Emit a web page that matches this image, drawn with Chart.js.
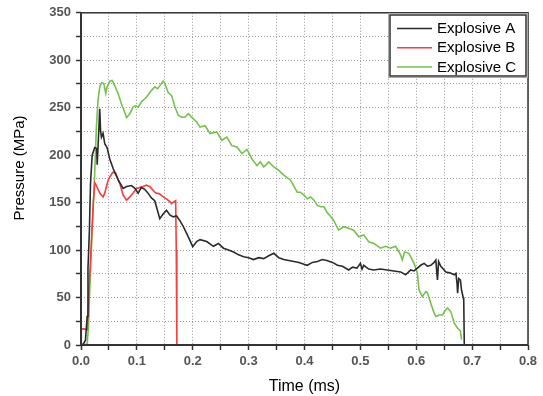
<!DOCTYPE html>
<html>
<head>
<meta charset="utf-8">
<script src="https://cdn.jsdelivr.net/npm/chart.js@4/dist/chart.umd.min.js"></script>
<style>
html,body{margin:0;padding:0;background:#fff;}
canvas{display:block;}
</style>
</head>
<body>
<canvas id="c" width="543" height="396"></canvas>
<script>
// ---- data ----
const seriesNames = ["Explosive A", "Explosive B", "Explosive C"];

const timeA = [0,0.004,0.008,0.011,0.0125,0.013,0.015,0.017,0.02,0.0245,0.028,0.029,0.031,0.0335,0.035,0.0366,0.0395,0.0425,0.0467,0.0515,0.0575,0.0665,0.0754,0.0815,0.0905,0.0964,0.1023,0.108,0.114,0.12,0.126,0.132,0.141,0.147,0.153,0.159,0.165,0.171,0.177,0.183,0.192,0.2,0.207,0.213,0.225,0.237,0.246,0.255,0.264,0.273,0.282,0.291,0.3,0.309,0.318,0.327,0.336,0.345,0.354,0.363,0.372,0.381,0.39,0.399,0.405,0.414,0.423,0.432,0.44,0.45,0.459,0.468,0.479,0.486,0.494,0.5,0.503,0.506,0.515,0.524,0.536,0.548,0.56,0.572,0.581,0.59,0.596,0.602,0.608,0.614,0.62,0.626,0.632,0.635,0.637,0.638,0.64,0.644,0.653,0.66,0.668,0.671,0.673,0.674,0.676,0.679,0.681,0.684,0.685,0.686];
const pressureA = [0,1,5,30,82,88,120,170,200,208,207,190,215,249,226,219,223,212,208,196,186,174,165,167,168,165,160,166,164,160,155,152,133,138,142,137,135,136,131,125,114,103.6,109,111,109,104,107,102,100,98,95,93,92,90,92,91,94,96.6,92,90,89,88,87,85,84,87,88,90,89,87,84,83,79,82,81,86,80,84,80,79,80,79,78,77,74,79,78,81,84,86,83,84,87,89.6,75,68.6,88,83,77,76,74,75.5,65,54.6,70,68.6,58,50,47.6,0];

const timeB = [0,0.0005,0.005,0.011,0.0144,0.0187,0.022,0.0246,0.0275,0.0336,0.0395,0.0425,0.0485,0.0515,0.057,0.062,0.0695,0.0754,0.0815,0.0874,0.093,0.0995,0.105,0.111,0.117,0.123,0.126,0.132,0.135,0.141,0.147,0.153,0.159,0.162,0.1664,0.1694,0.1705,0.1715];
const pressureB = [0,17,17,16,58,110,150,171,168,160,156,160,173.6,177,182,181,170,158,152.6,156,160,165,166,167,168.4,167,165,161,160,159,156,154,151,149,151,152,100,0];

const timeC = [0,0.005,0.011,0.0135,0.0156,0.0205,0.0234,0.0276,0.0305,0.0336,0.0366,0.0408,0.0443,0.0467,0.0515,0.0557,0.0605,0.0665,0.0725,0.0784,0.0815,0.0874,0.093,0.098,0.1023,0.108,0.117,0.126,0.132,0.137,0.141,0.147,0.15,0.156,0.162,0.168,0.174,0.18,0.186,0.192,0.198,0.207,0.213,0.222,0.231,0.243,0.252,0.261,0.27,0.279,0.288,0.297,0.306,0.315,0.321,0.327,0.336,0.345,0.354,0.363,0.375,0.387,0.393,0.399,0.405,0.411,0.417,0.423,0.429,0.435,0.44,0.452,0.461,0.47,0.479,0.488,0.497,0.506,0.515,0.524,0.536,0.545,0.554,0.563,0.572,0.575,0.579,0.587,0.596,0.599,0.602,0.605,0.611,0.617,0.62,0.626,0.632,0.635,0.641,0.647,0.65,0.656,0.662,0.668,0.674,0.679,0.681];
const pressureC = [0,0.5,1,20,58,128,163,230,258,272,276,275.5,265,272,278,278.7,273,265,254,245,239.5,243.7,250.6,252,250.6,256,261,268,272,270,273,278,275.5,266,263,251,242,240,240,243.7,240,235,229.6,231,222.7,224.5,215.7,219,210,208.6,201.7,206,196,189,193,187.6,193,187.6,184,179,173.6,161,161,158,154,156,152.6,147,145.6,145.6,140,131.6,121,124.6,123,121,114,116,108.8,107,102,104,102,104,95,89.6,98,96.6,86,81,75.6,58,51,56.3,55,44,33.6,30,31.6,31.6,35,39,35,23,17.8,15,5.6];

const xTickLabels = ["0.0","0.1","0.2","0.3","0.4","0.5","0.6","0.7","0.8"];
const yTickLabels = ["0","50","100","150","200","250","300","350"];
const xTitle = "Time (ms)";
const yTitle = "Pressure (MPa)";

// ---- build chart ----
const colors = ["#2b2b2b", "#f04040", "#74c14e"];
function pts(t, p) { return t.map((v, i) => ({x: v, y: p[i]})); }
const datasets = [
  {label: seriesNames[0], data: pts(timeA, pressureA)},
  {label: seriesNames[1], data: pts(timeB, pressureB)},
  {label: seriesNames[2], data: pts(timeC, pressureC)}
].map((d, i) => Object.assign(d, {
  borderColor: colors[i], backgroundColor: colors[i], borderWidth: 1.6,
  pointRadius: 0, tension: 0, fill: false
}));

const FONT = "'Liberation Sans', Arial, sans-serif";

const framePlugin = {
  id: 'frame',
  afterDatasetsDraw(chart) {
    const {ctx, chartArea: a} = chart;
    ctx.save();
    ctx.strokeStyle = '#333';
    ctx.lineWidth = 1.5;
    ctx.strokeRect(a.left, a.top, a.right - a.left, a.bottom - a.top);
    ctx.lineWidth = 2;
    ctx.beginPath();
    ctx.moveTo(a.left, a.top); ctx.lineTo(a.left, a.bottom); ctx.lineTo(a.right, a.bottom);
    ctx.stroke();
    ctx.restore();
  },
  afterDraw(chart) {
    const {ctx, chartArea: a} = chart;
    ctx.save();
    // y axis title
    ctx.translate(20, 168);
    ctx.rotate(-Math.PI / 2);
    ctx.fillStyle = '#000';
    ctx.font = '15px ' + FONT;
    ctx.textAlign = 'center';
    ctx.textBaseline = 'middle';
    ctx.fillText(yTitle, 0, 0);
    ctx.restore();

    // legend box
    ctx.save();
    const bx = 388, by = 13, bw = a.right - 388, bh = 65;
    ctx.fillStyle = '#fff';
    ctx.fillRect(bx, by, bw, bh);
    ctx.strokeStyle = '#aaa';
    ctx.lineWidth = 1;
    ctx.strokeRect(bx + 0.5, by + 0.5, bw - 1, bh - 1);
    ctx.strokeStyle = '#333';
    ctx.lineWidth = 1.5;
    ctx.strokeRect(bx + 2, by + 2, bw - 4, bh - 4);
    ctx.font = '15px ' + FONT;
    ctx.textBaseline = 'middle';
    ctx.textAlign = 'left';
    chart.data.datasets.forEach((ds, i) => {
      const y = 28.5 + i * 19.2;
      ctx.strokeStyle = ds.borderColor;
      ctx.lineWidth = 1.5;
      ctx.beginPath(); ctx.moveTo(397, y); ctx.lineTo(432, y); ctx.stroke();
      ctx.fillStyle = '#000';
      ctx.fillText(ds.label, 437, y + 0.5);
    });
    ctx.restore();
  }
};

new Chart(document.getElementById('c'), {
  type: 'line',
  data: {datasets},
  options: {
    responsive: false,
    devicePixelRatio: 1,
    animation: false,
    layout: {padding: {top: 12, right: 15, left: 0, bottom: 0}},
    plugins: {legend: {display: false}, tooltip: {enabled: false}},
    scales: {
      x: {
        type: 'linear', min: 0, max: 0.8,
        afterFit(s) { s.height = 51; },
        ticks: {
          stepSize: 0.05, autoSkip: false, maxRotation: 0, padding: 4,
          color: '#555', font: {family: FONT, size: 13, weight: 'bold'},
          callback(v) {
            const k = Math.round(v * 100);
            return k % 10 === 0 ? xTickLabels[k / 10] : '';
          }
        },
        grid: {color: '#999', lineWidth: 1, drawTicks: true, tickLength: 5, tickColor: '#333', tickWidth: 1.5, tickBorderDash: []},
        border: {display: false, dash: [1, 2]},
        title: {display: true, text: xTitle, color: '#000', font: {family: FONT, size: 16}, padding: {top: 0, bottom: 0}}
      },
      y: {
        type: 'linear', min: 0, max: 350,
        afterFit(s) { s.width = 81; },
        ticks: {
          stepSize: 25, autoSkip: false, padding: 5,
          color: '#555', font: {family: FONT, size: 13, weight: 'bold'},
          callback(v) {
            return v % 50 === 0 ? yTickLabels[v / 50] : '';
          }
        },
        grid: {color: '#999', lineWidth: 1, drawTicks: true, tickLength: 5, tickColor: '#333', tickWidth: 1.5, tickBorderDash: []},
        border: {display: false, dash: [1, 2]}
      }
    }
  },
  plugins: [framePlugin]
});
</script>
</body>
</html>
